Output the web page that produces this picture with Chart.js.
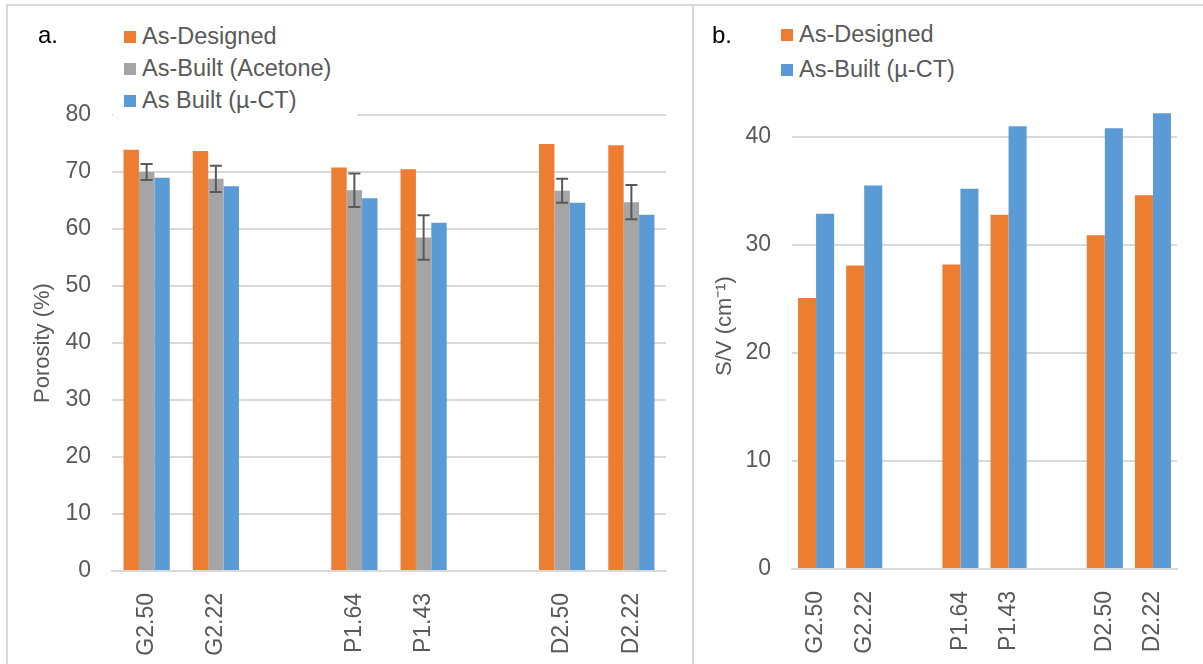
<!DOCTYPE html>
<html>
<head>
<meta charset="utf-8">
<script src="https://cdn.jsdelivr.net/npm/chart.js@4.4.1/dist/chart.umd.min.js"></script>
<style>
  body { margin: 0; background: #fff; width: 1203px; height: 664px; overflow: hidden; position: relative; font-family: 'Liberation Sans', Arial, sans-serif; }
  .frame { position: absolute; box-sizing: border-box; border: 2px solid #d9d9d9; }
  .box { position: absolute; }
  .tag { position: absolute; font-size: 24px; color: #000; line-height: 1; }
  .legend { position: absolute; background: #fff; font-size: 23.5px; color: #595959; line-height: 32px; }
  .legend div { white-space: nowrap; }
  .legend span { display: inline-block; width: 12px; height: 12px; margin-right: 6px; vertical-align: 1px; }
</style>
</head>
<body>
<div class="frame" style="left:6px; top:4px; width:688px; height:700px;"></div>
<div class="frame" style="left:692px; top:4px; width:530px; height:700px;"></div>

<div class="box" style="left:0; top:0; width:692px; height:664px;"><canvas id="porosity"></canvas></div>
<div class="box" style="left:694px; top:0; width:509px; height:664px;"><canvas id="sv"></canvas></div>

<div class="tag" style="left:38px; top:23px;">a.</div>
<div class="tag" style="left:712px; top:23px;">b.</div>
<div class="legend" id="leg1" style="left:113px; top:20px; width:244px; height:100px; padding-left:11px; box-sizing:border-box;"></div>
<div class="legend" id="leg2" style="left:776px; top:17px; line-height:35px; padding-left:5px;"></div>

<script>
// categories (blank slots separate the G / P / D groups)
var categories = ['G2.50', 'G2.22', '', 'P1.64', 'P1.43', '', 'D2.50', 'D2.22'];

// a. porosity (%)
var porosityDesigned = [73.9, 73.7, null, 70.8, 70.5, null, 74.9, 74.7];
var porosityAcetone = [70.0, 68.8, null, 66.8, 58.5, null, 66.7, 64.7];
var porosityAcetoneErr = [1.4, 2.3, null, 2.95, 3.9, null, 2.1, 3.0];
var porosityCT = [69.0, 67.5, null, 65.4, 61.1, null, 64.6, 62.5];
var porosityMax = 80;
var porosityStep = 10;

// b. surface to volume (cm-1)
var svDesigned = [25.1, 28.1, null, 28.2, 32.8, null, 30.9, 34.6];
var svCT = [32.9, 35.5, null, 35.2, 41.0, null, 40.8, 42.2];
var svMax = 45;
var svStep = 10;

var ORANGE = '#ED7D31', GREY = '#A5A5A5', BLUE = '#5B9BD5';
var TXT = '#595959', GRID = '#d9d9d9';
var FONT = 'Liberation Sans';

// error bars for datasets that carry an "errors" array
var errorBars = {
    id: 'errorBars',
    afterDatasetsDraw: function (chart) {
        var ctx = chart.ctx;
        var yScale = chart.scales.y;
        chart.data.datasets.forEach(function (ds, i) {
            if (!ds.errors) return;
            var meta = chart.getDatasetMeta(i);
            meta.data.forEach(function (bar, j) {
                var v = ds.data[j], e = ds.errors[j];
                if (v == null || e == null) return;
                var yTop = yScale.getPixelForValue(v + e);
                var yBot = yScale.getPixelForValue(v - e);
                ctx.save();
                ctx.strokeStyle = TXT;
                ctx.lineWidth = 2;
                ctx.beginPath();
                ctx.moveTo(bar.x, yTop); ctx.lineTo(bar.x, yBot);
                ctx.moveTo(bar.x - 6, yTop); ctx.lineTo(bar.x + 6, yTop);
                ctx.moveTo(bar.x - 6, yBot); ctx.lineTo(bar.x + 6, yBot);
                ctx.stroke();
                ctx.restore();
            });
        });
    }
};

function makeChart(id, datasets, opts) {
    return new Chart(document.getElementById(id), {
        type: 'bar',
        data: { labels: categories, datasets: datasets },
        options: {
            responsive: true,
            maintainAspectRatio: false,
            animation: false,
            layout: { padding: { top: opts.top, right: 26, bottom: 0, left: 0 } },
            datasets: { bar: { categoryPercentage: opts.catPct, barPercentage: 1 } },
            plugins: { legend: { display: false }, tooltip: { enabled: false } },
            scales: {
                x: {
                    grid: { display: false },
                    border: { color: GRID, width: 2 },
                    ticks: { color: TXT, font: { family: FONT, size: 23 }, minRotation: 90, maxRotation: 90, padding: 14, autoSkip: false },
                    afterFit: function (axis) { axis.height = opts.xHeight; }
                },
                y: {
                    min: 0,
                    max: opts.max,
                    grid: { color: GRID, lineWidth: 2, drawTicks: false },
                    border: { display: false },
                    ticks: { stepSize: opts.step, color: TXT, font: { family: FONT, size: 23 }, padding: 21 },
                    afterBuildTicks: function (axis) {
                        axis.ticks = axis.ticks.filter(function (t) { return t.value % opts.step === 0; });
                    },
                    title: { display: true, text: opts.title, color: TXT, font: { family: FONT, size: 22 }, padding: { top: opts.titlePad } },
                    afterFit: function (axis) { axis.width = opts.yWidth; }
                }
            }
        },
        plugins: [errorBars]
    });
}

var chartA = makeChart('porosity', [
    { label: 'As-Designed', data: porosityDesigned, backgroundColor: ORANGE },
    { label: 'As-Built (Acetone)', data: porosityAcetone, errors: porosityAcetoneErr, backgroundColor: GREY },
    { label: 'As Built (\u00b5-CT)', data: porosityCT, backgroundColor: BLUE }
], { top: 115, max: porosityMax, step: porosityStep, catPct: 0.667, xHeight: 93, yWidth: 112, title: 'Porosity (%)', titlePad: 30 });

var chartB = makeChart('sv', [
    { label: 'As-Designed', data: svDesigned, backgroundColor: ORANGE },
    { label: 'As-Built (\u00b5-CT)', data: svCT, backgroundColor: BLUE }
], { top: 83, max: svMax, step: svStep, catPct: 0.75, xHeight: 95, yWidth: 98, title: 'S/V (cm\u207b\u00b9)', titlePad: 18 });

// html legends built from the chart datasets
function buildLegend(chart, elId) {
    var el = document.getElementById(elId);
    chart.data.datasets.forEach(function (ds) {
        var row = document.createElement('div');
        var sw = document.createElement('span');
        sw.style.background = ds.backgroundColor;
        row.appendChild(sw);
        row.appendChild(document.createTextNode(ds.label));
        el.appendChild(row);
    });
}
buildLegend(chartA, 'leg1');
buildLegend(chartB, 'leg2');
</script>
</body>
</html>
